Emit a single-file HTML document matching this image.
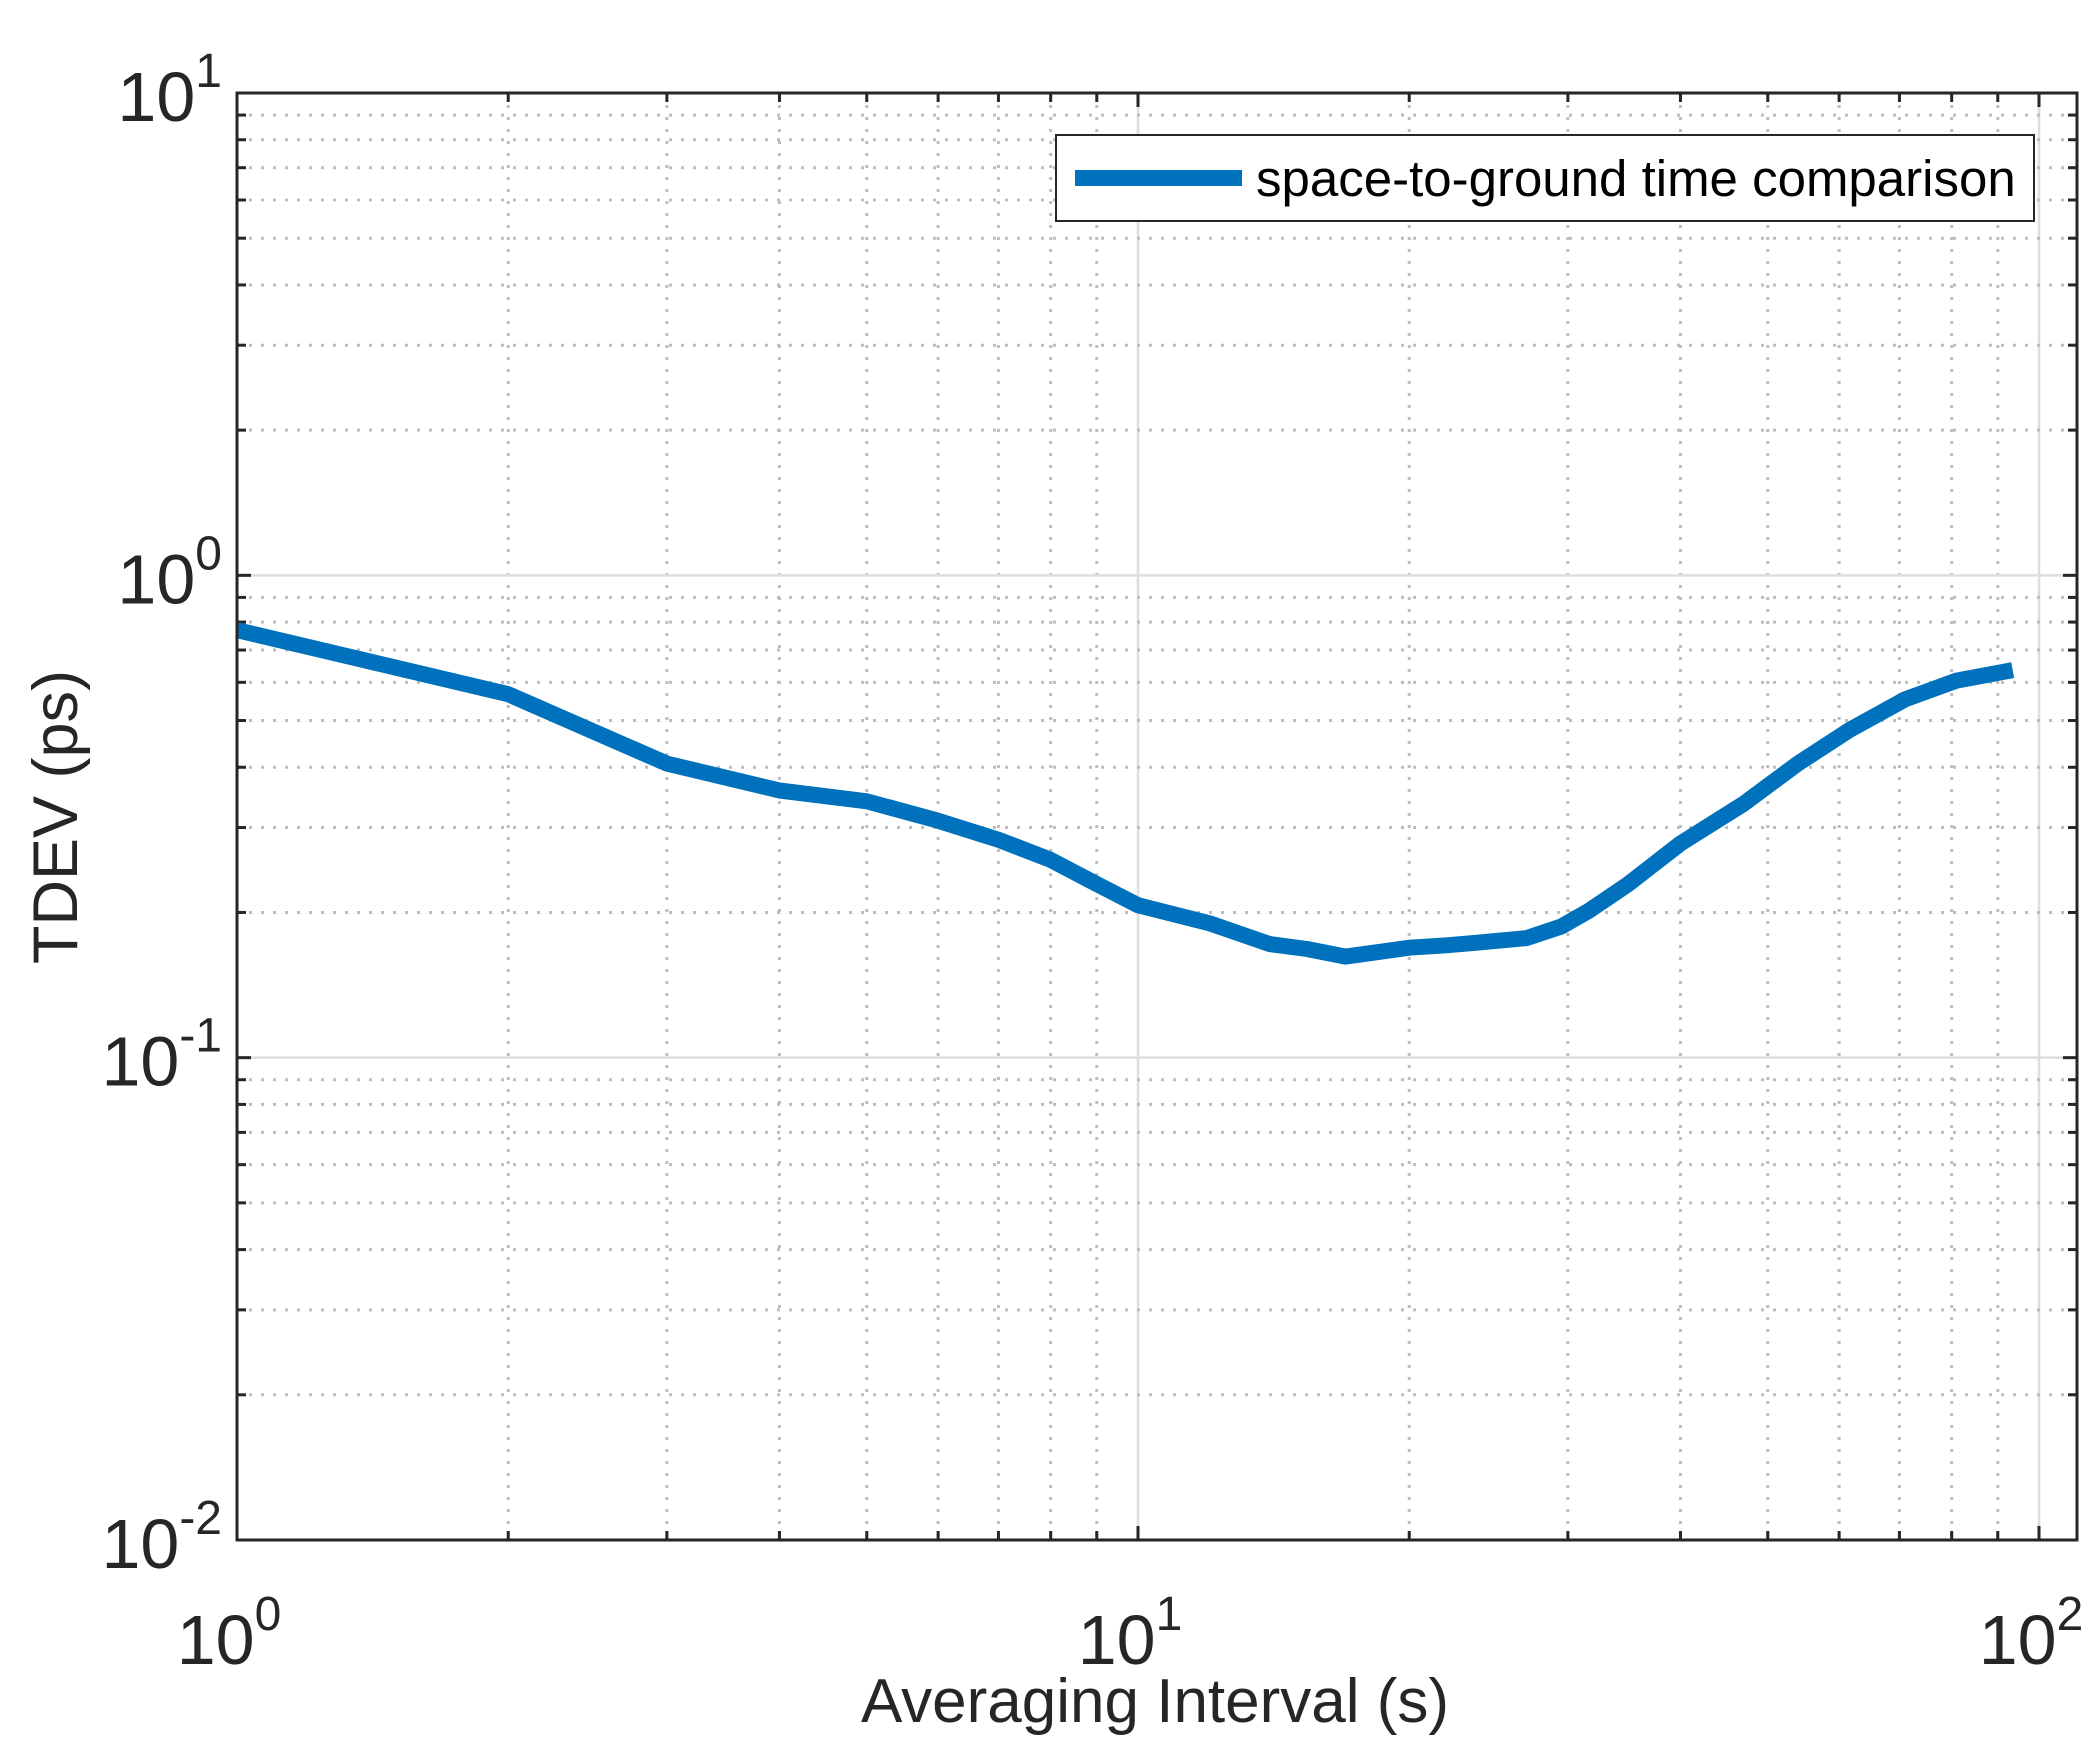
<!DOCTYPE html>
<html><head><meta charset="utf-8"><style>
html,body{margin:0;padding:0;background:#fff;}
svg{display:block;font-family:"Liberation Sans",Arial,sans-serif;}
</style></head><body>
<svg id="chart" width="2099" height="1743" viewBox="0 0 2099 1743" xmlns="http://www.w3.org/2000/svg">
<rect width="2099" height="1743" fill="#fff"/>
<g id="grid"></g>
<g id="ticks"></g>
<g id="series"></g>
<rect x="237" y="93" width="1840" height="1447" fill="none" stroke="#262626" stroke-width="3"/>
<g id="labels"></g>
<text x="1155" y="1722" font-size="62" text-anchor="middle" fill="#262626">Averaging Interval (s)</text>
<text x="77" y="817" font-size="63" text-anchor="middle" fill="#262626" transform="rotate(-90 77 817)">TDEV (ps)</text>
<g>
<rect x="1056" y="135" width="978" height="86" fill="#fff" stroke="#262626" stroke-width="2"/>
<line x1="1075" y1="178" x2="1242" y2="178" stroke="#0072BD" stroke-width="16"/>
<text x="1256" y="196" font-size="51" fill="#000">space-to-ground time comparison</text>
</g>
</svg>
<script>
const xValues = [1,2,3,4,5,6,7,8,9,10,12,14,15.4,17,20,22,23.7,27,29.5,31.7,35,40,47,54,61.5,71,81,93.5];
const tdevValues = [0.77,0.567,0.407,0.358,0.34,0.31,0.283,0.257,0.229,0.207,0.19,0.172,0.168,0.162,0.169,0.171,0.173,0.177,0.187,0.202,0.229,0.278,0.336,0.407,0.477,0.553,0.605,0.636];
const xTickExps = [0,1,2];
const yTickExps = [1,0,-1,-2];

const NS = "http://www.w3.org/2000/svg";
const L = 237, R = 2077, T = 93, B = 1540;
const XDEC = 901, YDEC = 482.33;
function sx(v){ return L + Math.log10(v) * XDEC; }
function sy(v){ return T + (1 - Math.log10(v)) * YDEC; }
function mk(tag, attrs, parent){ const e = document.createElementNS(NS, tag); for (const k in attrs) e.setAttribute(k, attrs[k]); parent.appendChild(e); return e; }

const grid = document.getElementById('grid');
const ticks = document.getElementById('ticks');
for (let d = 0; d <= 2; d++) {
  for (let m = 1; m <= 9; m++) {
    const v = Math.pow(10, d) * m;
    const x = sx(v);
    if (x > R) break;
    const major = (m === 1);
    const gl = mk('line', {x1:x, y1:T, x2:x, y2:B, stroke: major ? '#dedede' : '#bdbdbd', 'stroke-width': major ? 2.5 : 3, 'stroke-dasharray': major ? '' : '3 9'}, grid);
    
    
    const len = major ? 14 : 9;
    const t1 = mk('line', {x1:x, y1:B, x2:x, y2:B-len, stroke:'#262626', 'stroke-width':3}, ticks);
    
    
    const t2 = mk('line', {x1:x, y1:T, x2:x, y2:T+len, stroke:'#262626', 'stroke-width':3}, ticks);
    
    
  }
}
for (let d = -2; d <= 0; d++) {
  for (let m = 1; m <= 9; m++) {
    const v = Math.pow(10, d) * m;
    const y = sy(v);
    const major = (m === 1);
    if (!(major && d === -2)) {
      const gl = mk('line', {x1:L, y1:y, x2:R, y2:y, stroke: major ? '#dedede' : '#bdbdbd', 'stroke-width': major ? 2.5 : 3, 'stroke-dasharray': major ? '' : '3 9'}, grid);
      
      
    }
    const len = major ? 14 : 9;
    const t1 = mk('line', {x1:L, y1:y, x2:L+len, y2:y, stroke:'#262626', 'stroke-width':3}, ticks);
    
    
    const t2 = mk('line', {x1:R, y1:y, x2:R-len, y2:y, stroke:'#262626', 'stroke-width':3}, ticks);
    
    
  }
}
const labels = document.getElementById('labels');
xTickExps.forEach(e => {
  const x = sx(Math.pow(10, e));
  const t = mk('text', {x: x - 8, y: 1664, 'font-size': 70, 'text-anchor': 'middle', fill: '#262626'}, labels);
  
  
  t.textContent = '10';
  const s = mk('tspan', {dy: -34, 'font-size': 48}, t);
  s.textContent = String(e);
});
yTickExps.forEach(e => {
  const y = sy(Math.pow(10, e));
  const t = mk('text', {x: 222, y: y + 28, 'font-size': 70, 'text-anchor': 'end', fill: '#262626'}, labels);
  
  
  t.textContent = '10';
  const s = mk('tspan', {dy: -34, 'font-size': 48}, t);
  s.textContent = String(e);
});
const pts = xValues.map((v, i) => sx(v).toFixed(1) + ',' + sy(tdevValues[i]).toFixed(1)).join(' ');
const line = mk('polyline', {points: pts, fill: 'none', stroke: '#0072BD', 'stroke-width': 16, 'stroke-linejoin': 'round'}, document.getElementById('series'));


</script>
</body></html>
